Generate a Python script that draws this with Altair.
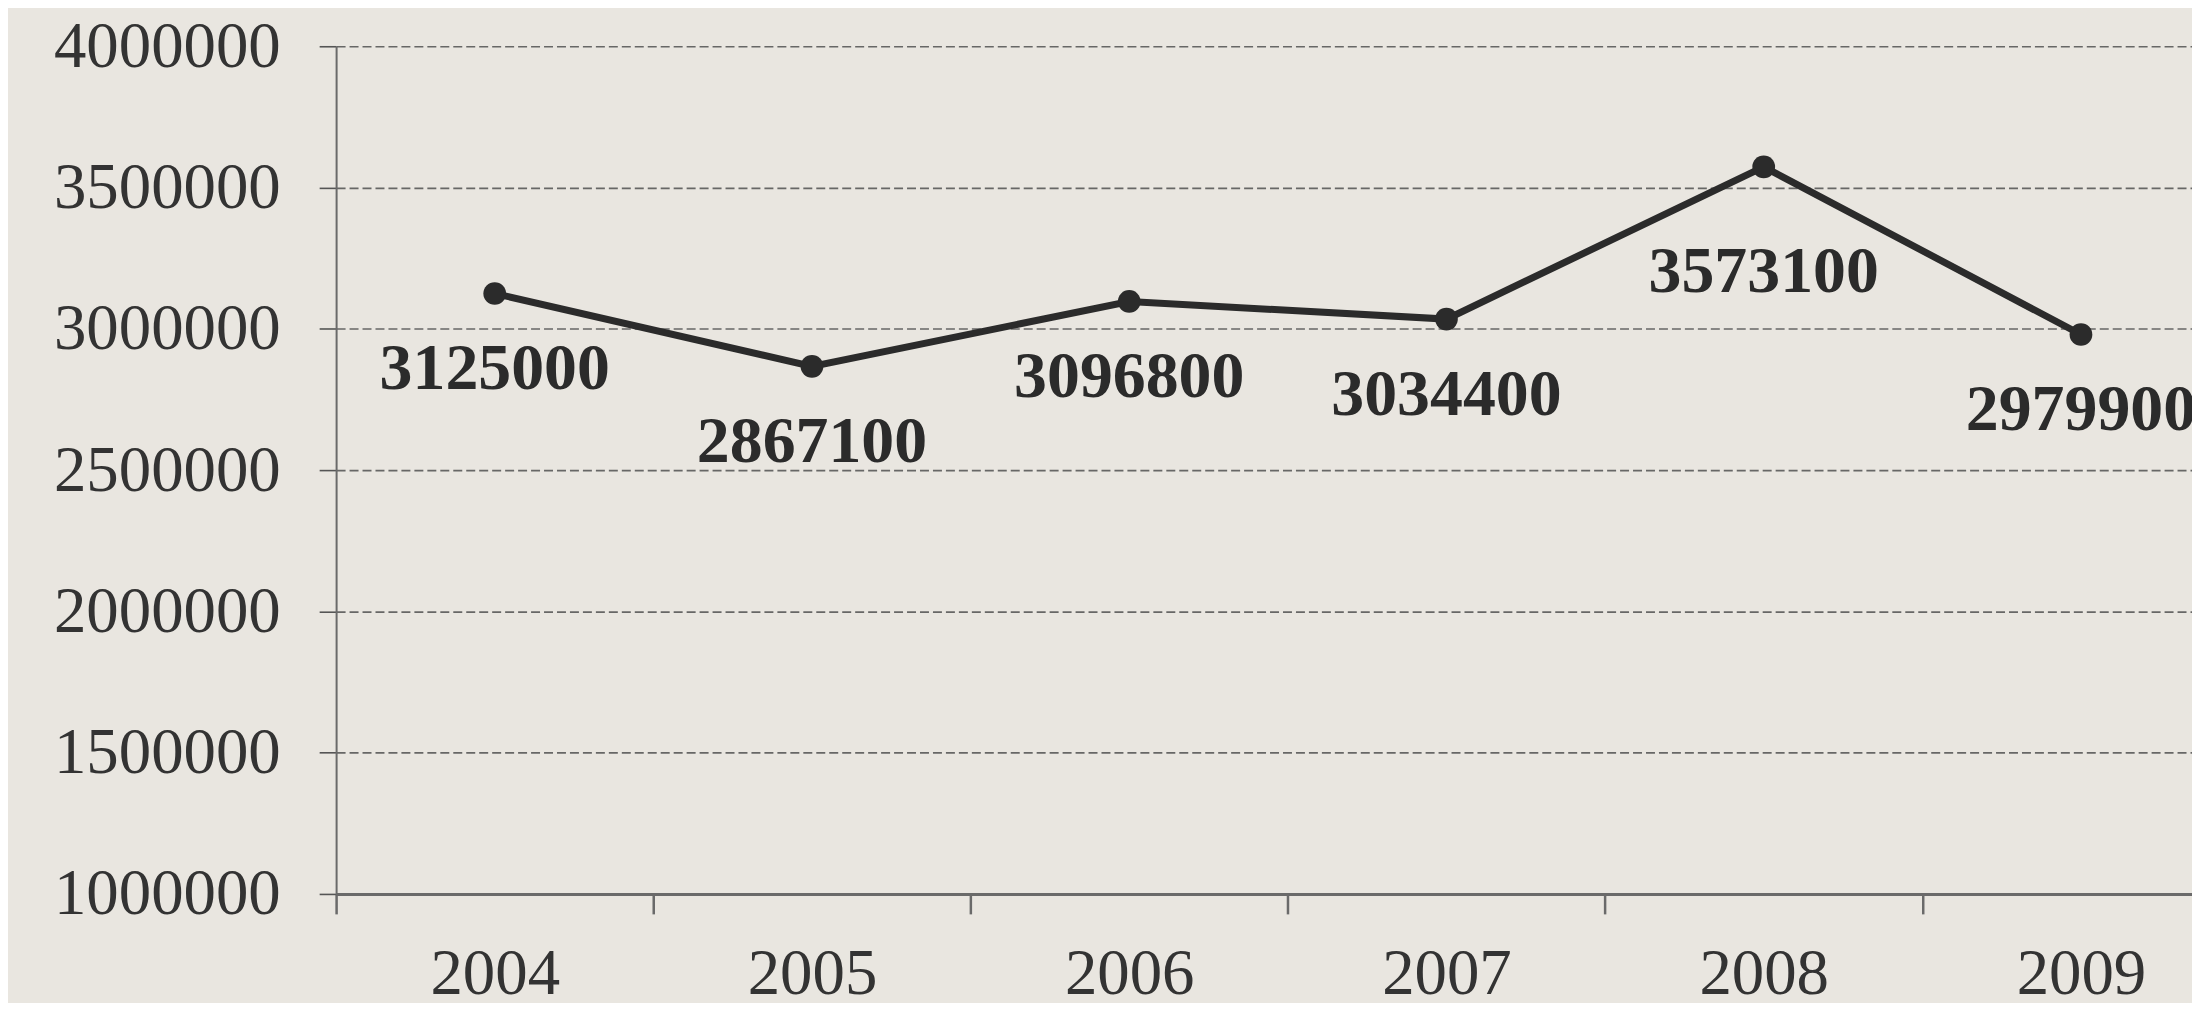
import altair as alt
import pandas as pd

years = [2004, 2005, 2006, 2007, 2008, 2009]
values = [3125000, 2867100, 3096800, 3034400, 3573100, 2979900]
y_ticks = [1000000, 1500000, 2000000, 2500000, 3000000, 3500000, 4000000]
peak_year = 2008

df = pd.DataFrame({"year": years, "value": values})

BG = "#e9e6e0"
INK = "#2b2b2b"
AXIS = "#6a6a6a"
FONT = "Liberation Serif"

W = 1861
H = 850
X_MIN, X_MAX = 2003.5, 2009.35
BAND = W / (X_MAX - X_MIN)
tick_vals = [y - 0.5 for y in years]

x_enc = alt.X(
    "year:Q",
    scale=alt.Scale(domain=[X_MIN, X_MAX], nice=False, zero=False),
    axis=alt.Axis(
        values=tick_vals,
        labelExpr="format(datum.value + 0.5, 'd')",
        labelOffset=BAND / 2,
        title=None,
        grid=False,
        domainColor=AXIS,
        domainWidth=3,
        tickColor=AXIS,
        tickWidth=2.5,
        tickSize=20,
        labelPadding=29,
        labelFont=FONT,
        labelFontSize=65,
        labelColor="#333333",
        labelFlush=False,
        labelOverlap=False,
        labelLimit=0,
    ),
)

y_enc = alt.Y(
    "value:Q",
    scale=alt.Scale(domain=[1000000, 4000000], nice=False, zero=False),
    axis=alt.Axis(
        values=y_ticks,
        format="d",
        title=None,
        grid=True,
        gridColor="#505050",
        gridDash=[9, 4],
        gridWidth=1.7,
        gridOpacity=0.85,
        domainColor=AXIS,
        domainWidth=2,
        tickColor="#555555",
        tickWidth=1.6,
        tickSize=17,
        labelPadding=39,
        labelFont=FONT,
        labelFontSize=65,
        labelColor="#333333",
        labelOverlap=False,
        labelFlush=False,
        labelLimit=0,
    ),
)

base = alt.Chart(df)

line = base.mark_line(color=INK, strokeWidth=7).encode(x=x_enc, y=y_enc)
points = base.mark_point(filled=True, color=INK, size=520, opacity=1).encode(x="year:Q", y="value:Q")

labels = base.transform_filter(f"datum.year != {peak_year}").mark_text(
    font=FONT, fontSize=66, fontWeight="bold", color=INK, dy=76, baseline="middle", align="center"
).encode(x="year:Q", y="value:Q", text=alt.Text("value:Q", format="d"))

peak_label = base.transform_filter(f"datum.year == {peak_year}").mark_text(
    font=FONT, fontSize=66, fontWeight="bold", color=INK, dy=105, baseline="middle", align="center"
).encode(x="year:Q", y="value:Q", text=alt.Text("value:Q", format="d"))

chart = (
    alt.layer(line, points, labels, peak_label)
    .properties(
        width=W,
        height=H,
        background=BG,
        padding={"left": 329, "top": 37, "right": 0, "bottom": 108},
        autosize=alt.AutoSizeParams(type="none"),
    )
    .configure_view(stroke=None)
)

chart.save("out.html", embed_options={"renderer": "svg", "actions": False})
